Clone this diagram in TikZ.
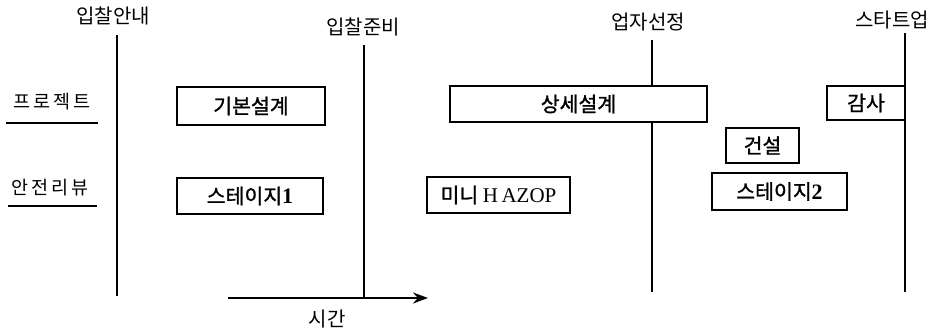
\documentclass[tikz,border=0pt]{standalone}
\usepackage{fontspec}
\setmainfont{Liberation Serif}
\newfontfamily\kr{Noto Sans CJK KR}
\newfontfamily\krm[FakeBold=1.2]{Noto Sans CJK KR}
\usetikzlibrary{arrows.meta}
\begin{document}
\begin{tikzpicture}[x=1pt,y=-1pt,
  phase/.style={font=\kr\fontsize{20}{20}\selectfont, inner sep=0pt, anchor=center},
  rowlbl/.style={font=\kr\fontsize{18.5}{18.5}\selectfont, inner sep=0pt},
  task/.style={draw, line width=1.6pt, fill=white, font=\krm\fontsize{20.5}{20.5}\selectfont, inner sep=0pt, align=center},
  vline/.style={line width=1.8pt},
  uline/.style={line width=1.3pt}]
\useasboundingbox (0,0) rectangle (939,332);
% phase labels
\node[phase] (p1) at (113,16) {입찰안내};
\node[phase] (p2) at (363,27) {입찰준비};
\node[phase] (p3) at (648,22) {업자선정};
\node[phase] (p4) at (892,20) {스타트업};
% line ends
\coordinate (t1) at (117,35);  \coordinate (b1) at (117,296);
\coordinate (t2) at (364,45);  \coordinate (b2) at (364,298);
\coordinate (t3) at (652,40);  \coordinate (b3) at (652,292);
\coordinate (t4) at (905,33);  \coordinate (b4) at (905,292);
\draw[vline] (t1) -- (b1);
\draw[vline] (t2) -- (b2);
\draw[vline] (t3) -- (b3);
\draw[vline] (t4) -- (b4);
% time axis
\coordinate (a0) at (228,298);
\coordinate (a1) at (428,298);
\draw[line width=1.8pt, -{Stealth[length=15pt,width=11pt]}] (a0) -- (a1);
\node[phase] (time) at (327,319) {시간};
% row labels
\node[rowlbl] (r1) at (52,102) {프\,로\,젝\,트};
\node[rowlbl] (r2) at (50,188) {안\,전\,리\,뷰};
\coordinate (u1a) at (6,123); \coordinate (u1b) at (98,123);
\coordinate (u2a) at (8,206); \coordinate (u2b) at (97,206);
\draw[uline] (u1a) -- (u1b);
\draw[uline] (u2a) -- (u2b);
% tasks
\node[task, minimum width=148pt, minimum height=38pt] (kb) at (251,106) {기본설계};
\node[task, minimum width=257pt, minimum height=36pt] (ss) at (578.5,104) {상세설계};
\node[task, minimum width=78pt, minimum height=34pt] (gs) at (866,103) {감사};
\node[task, minimum width=73pt, minimum height=35pt] (gn) at (762.5,145.5) {건설};
\node[task, minimum width=146pt, minimum height=36pt] (st1) at (250,196) {스테이지{\rmfamily\bfseries\fontsize{22}{22}\selectfont 1}};
\node[task, minimum width=143pt, minimum height=36pt] (hz) at (498.5,195) {미니 {\rmfamily\fontsize{21}{21}\selectfont H\,AZOP}};
\node[task, minimum width=135pt, minimum height=37pt] (st2) at (779.5,191.5) {스테이지{\rmfamily\bfseries\fontsize{22}{22}\selectfont 2}};
\end{tikzpicture}
\end{document}
